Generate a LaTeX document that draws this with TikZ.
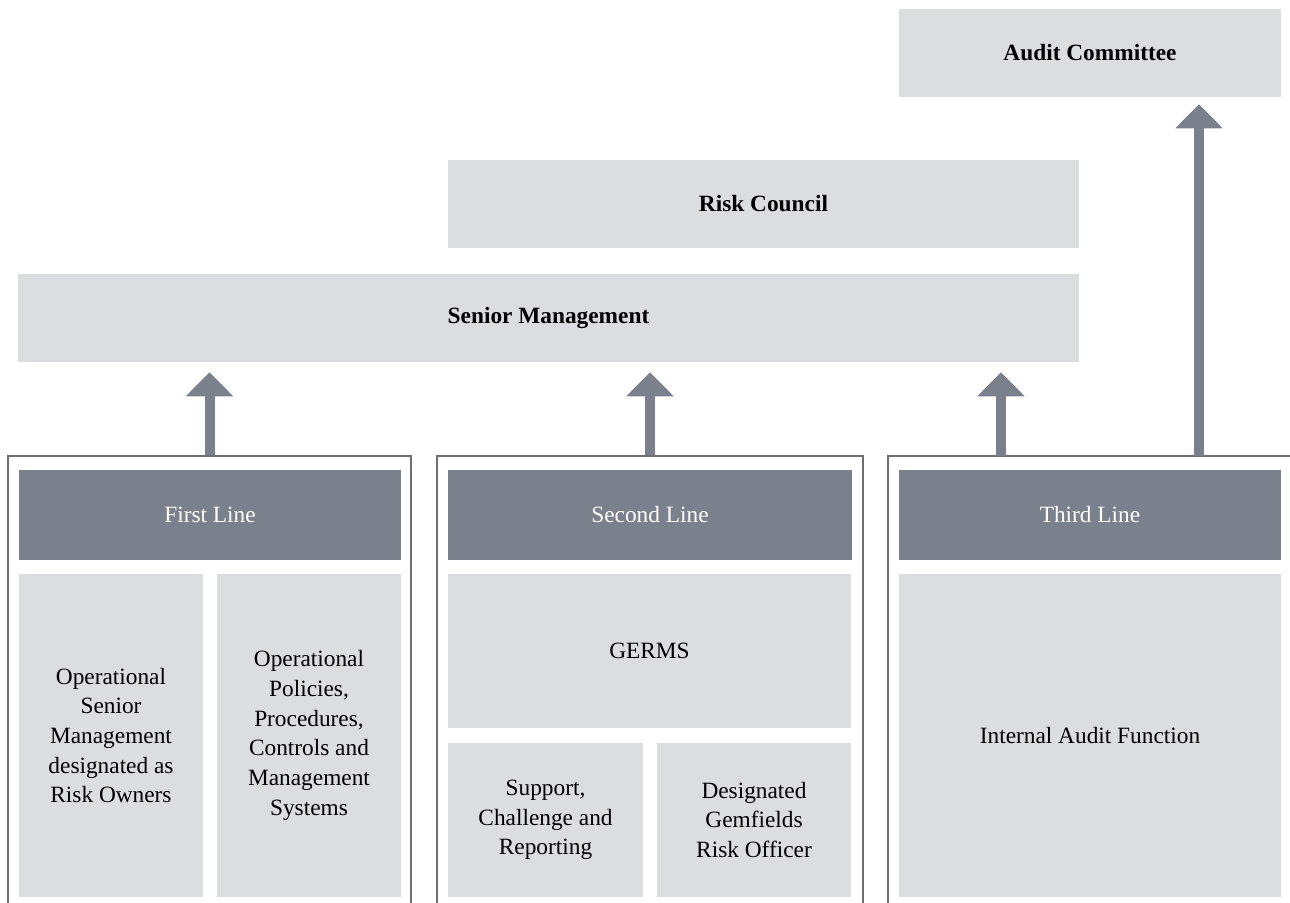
\documentclass[tikz,border=0pt]{standalone}
\usepackage{fontspec}
\setmainfont{Liberation Serif}
\usetikzlibrary{arrows.meta}
\definecolor{boxgray}{HTML}{DCDDDF}
\definecolor{slate}{HTML}{7A808C}
\definecolor{framegray}{HTML}{6E6E6E}

\begin{document}
\begin{tikzpicture}[x=0.75pt, y=-0.75pt,
    txt/.style={font=\fontsize{17.5}{22.3}\selectfont, align=center},
    panel/.style={rectangle, fill=boxgray, inner sep=4pt, txt},
    head/.style={rectangle, fill=slate, text=white, inner sep=4pt, txt},
    frame/.style={rectangle, draw=framegray, line width=0.9pt},
    uparrow/.style={draw=slate, line width=7.5pt,
      -{Triangle[width=34.5pt, length=18pt]}, shorten >=7.5pt}
  ]
    \useasboundingbox (0,0) rectangle (1290,903);
    \clip (0,0) rectangle (1290,903);

    % outer frames of the three lines
    \node[frame, minimum width=302.25pt, minimum height=348pt] (frameA) at (209.5,688) {};
    \node[frame, minimum width=319.5pt, minimum height=348pt] (frameB) at (650,688) {};
    \node[frame, minimum width=316.5pt, minimum height=348pt] (frameC) at (1099,688) {};

    % top boxes
    \node[panel, minimum width=286.5pt, minimum height=66pt] (audit) at (1090,53) {\textbf{Audit Committee}};
    \node[panel, minimum width=473.25pt, minimum height=66pt] (council) at (763.5,204) {\textbf{Risk Council}};
    \node[panel, minimum width=795.75pt, minimum height=66pt] (senior) at (548.5,318) {\textbf{Senior Management}};

    % headers
    \node[head, minimum width=286.5pt, minimum height=67.5pt] (headA) at (210,515) {First Line};
    \node[head, minimum width=303pt, minimum height=67.5pt] (headB) at (650,515) {Second Line};
    \node[head, minimum width=286.5pt, minimum height=67.5pt] (headC) at (1090,515) {Third Line};

    % first line
    \node[panel, minimum width=138pt, minimum height=242.25pt] (owners) at (111,735.5)
      {Operational\\Senior\\Management\\designated as\\Risk Owners};
    \node[panel, minimum width=138pt, minimum height=242.25pt] (policies) at (309,735.5)
      {Operational\\Policies,\\Procedures,\\Controls and\\Management\\Systems};

    % second line
    \node[panel, minimum width=302.25pt, minimum height=115.5pt] (germs) at (649.5,651) {GERMS};
    \node[panel, minimum width=146.25pt, minimum height=115.5pt] (support) at (545.5,820)
      {Support,\\Challenge and\\Reporting};
    \node[panel, minimum width=145.5pt, minimum height=115.5pt] (officer) at (754,820)
      {Designated\\Gemfields\\Risk Officer};

    % third line
    \node[panel, minimum width=286.5pt, minimum height=242.25pt] (internal) at (1090,735.5)
      {Internal Audit Function};

    % arrows
    \coordinate (tapA) at (1001,456);
    \coordinate (tapB) at (1199,456);
    \draw[uparrow] (frameA.north) -- (frameA.north |- senior.south);
    \draw[uparrow] (frameB.north) -- (frameB.north |- senior.south);
    \draw[uparrow] (tapA) -- (tapA |- senior.south);
    \draw[uparrow, shorten >=5.25pt] (tapB) -- (tapB |- audit.south);
  \end{tikzpicture}
\end{document}
